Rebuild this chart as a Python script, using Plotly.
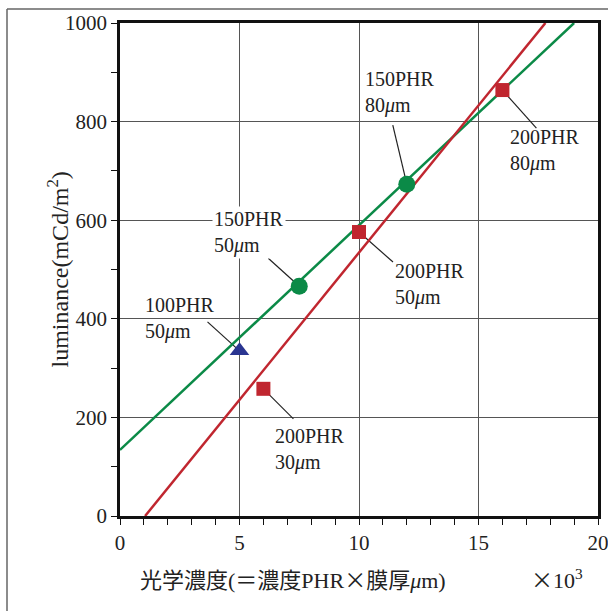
import plotly.graph_objects as go

# ---- data ----
tri_x = [5]
tri_y = [335]
circ_x = [7.5, 12]
circ_y = [466, 673]
sq_x = [6, 10, 16]
sq_y = [258, 576, 864]

green_line_x = [0, 19]
green_line_y = [134, 1000]
red_line_x = [1.05, 17.8]
red_line_y = [0, 1000]

label_x = [12, 16, 7.5, 10, 5, 6]
label_y = [673, 864, 466, 576, 335, 258]
label_text = ["150PHR<br>80<i>μ</i>m", "200PHR<br>80<i>μ</i>m", "150PHR<br>50<i>μ</i>m",
              "200PHR<br>50<i>μ</i>m", "100PHR<br>50<i>μ</i>m", "200PHR<br>30<i>μ</i>m"]

x_ticks = [0, 5, 10, 15, 20]
y_ticks = [0, 200, 400, 600, 800, 1000]

# ---- style / layout (pixel offsets) ----
leader_dx = [-14, 34, -31, 34, -32, 30]
leader_dy = [59, -38, 28, -30, 29, -30]
text_dx = [-44, 6, -87, 34, -97, 10]
text_dy = [118, -34, 80, -26, 59, -34]
label_bg = [None, None, "white", None, None, None]

FONT = "Liberation Serif, Times New Roman, serif"
CJK_FONT = "Liberation Serif, Noto Sans CJK JP, serif"
TIMES_SPAN = "<span style='font-family:Noto Sans CJK JP'>×</span>"
GREEN = "#0b8a47"
RED = "#c0262f"
BLUE = "#2a3591"

fig = go.Figure()
fig.add_trace(go.Scatter(x=green_line_x, y=green_line_y, mode="lines",
                         line=dict(color=GREEN, width=2.5), hoverinfo="skip"))
fig.add_trace(go.Scatter(x=red_line_x, y=red_line_y, mode="lines",
                         line=dict(color=RED, width=2.5), hoverinfo="skip"))

shapes = []
for i in range(len(label_x)):
    shapes.append(dict(type="line", xref="x", yref="y", xsizemode="pixel", ysizemode="pixel",
                       xanchor=label_x[i], yanchor=label_y[i], layer="between",
                       x0=0, y0=0, x1=leader_dx[i], y1=leader_dy[i],
                       line=dict(color="#222", width=1.2)))

fig.add_trace(go.Scatter(x=circ_x, y=circ_y, mode="markers",
                         marker=dict(symbol="circle", size=17, color=GREEN)))
fig.add_trace(go.Scatter(x=sq_x, y=sq_y, mode="markers",
                         marker=dict(symbol="square", size=14, color=RED)))
fig.add_trace(go.Scatter(x=tri_x, y=tri_y, mode="markers",
                         marker=dict(symbol="triangle-up", size=17, color=BLUE)))

annotations = []
for i in range(len(label_x)):
    a = dict(x=label_x[i], y=label_y[i], xref="x", yref="y", text=label_text[i],
             showarrow=False, xanchor="left", yanchor="top", align="left",
             xshift=text_dx[i], yshift=text_dy[i],
             font=dict(family=FONT, size=20, color="#222"))
    if label_bg[i]:
        a["bgcolor"] = label_bg[i]
    annotations.append(a)

annotations.append(dict(x=(40 - 120) / 478, y=0.5, xref="paper", yref="paper", textangle=-90,
                        text="luminance(mCd/m<sup>2</sup>)", showarrow=False,
                        font=dict(family=FONT, size=24, color="#222")))
annotations.append(dict(x=(138 - 120) / 478, y=(516 - 578) / 493, xref="paper", yref="paper",
                        xanchor="left", yanchor="middle",
                        text="光学濃度(＝濃度PHR" + TIMES_SPAN + "膜厚<i>μ</i>m)", showarrow=False,
                        font=dict(family=CJK_FONT, size=22, color="#222")))
annotations.append(dict(x=(529 - 120) / 478, y=(516 - 578) / 493, xref="paper", yref="paper",
                        xanchor="left", yanchor="middle",
                        text=TIMES_SPAN + "10<sup>3</sup>", showarrow=False,
                        font=dict(family=FONT, size=22, color="#222")))

# outer frame (top and left)
fl = (7 - 120) / 478
ft = 1 + (23 - 9) / 493
shapes.append(dict(type="line", xref="paper", yref="paper", x0=fl, x1=(612 - 120) / 478,
                   y0=ft, y1=ft, line=dict(color="#666", width=1.5)))
shapes.append(dict(type="line", xref="paper", yref="paper", x0=fl, x1=fl,
                   y0=ft, y1=(516 - 615) / 493, line=dict(color="#666", width=1.5)))

axis_common = dict(showline=True, linewidth=2.5, linecolor="#111", mirror=True,
                   ticks="outside", ticklen=6, tickwidth=1.2, tickcolor="#111",
                   showgrid=True, gridcolor="#555", gridwidth=1, zeroline=False,
                   automargin=False, ticklabeloverflow="allow",
                   tickfont=dict(family=FONT, size=21, color="#222"))

fig.update_layout(
    width=608, height=611,
    margin=dict(l=120, r=10, t=23, b=95),
    plot_bgcolor="white", paper_bgcolor="white",
    showlegend=False,
    xaxis=dict(range=[0, 20], tickvals=x_ticks, ticktext=[str(v) for v in x_ticks],
               minor=dict(dtick=1, ticks="outside", ticklen=6, tickcolor="#111", showgrid=False),
               **axis_common),
    yaxis=dict(range=[0, 1000], tickvals=y_ticks, ticktext=[str(v) for v in y_ticks],
               minor=dict(dtick=100, ticks="outside", ticklen=6, tickcolor="#111", showgrid=False),
               **axis_common),
    shapes=shapes,
    annotations=annotations,
)

fig.write_html("out.html", config={"displayModeBar": False},
               post_script="document.body.style.margin='0';document.body.style.overflow='hidden';")
